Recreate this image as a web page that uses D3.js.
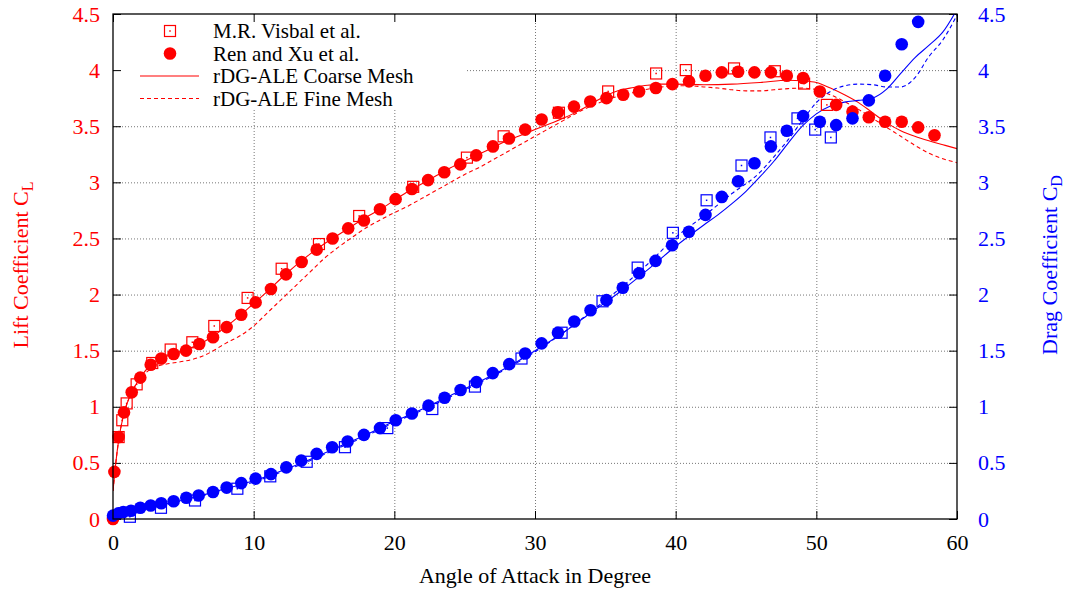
<!DOCTYPE html>
<meta charset="utf-8">
<style>
    body { margin: 0; background: #fff; }
    text { font-family: "Liberation Serif", "Times New Roman", serif; }
    .grid line { stroke: #777; stroke-width: 1; stroke-dasharray: 1,2; }
    .grid path { display: none; }
    .axis path { display: none; }
    .axis line { stroke: #000; stroke-width: 1; }
    .line { fill: none; stroke-width: 1.1px; }
</style>
<svg width="1066" height="592"></svg>
<script src="https://cdn.jsdelivr.net/npm/d3@7"></script>
<script>

    // tick values
    var xTicks = [0, 10, 20, 30, 40, 50, 60];
    var yTicks = [0, 0.5, 1, 1.5, 2, 2.5, 3, 3.5, 4, 4.5];

    // M.R. Visbal et al. (squares)
    var visbalClAlpha = [0.4, 0.66, 0.97, 1.68, 2.79, 4.1, 5.64, 7.2, 9.57, 11.99, 14.64, 17.5, 21.34, 25.16, 27.77, 31.7, 35.2, 38.61, 40.72, 44.15, 47.05, 49.13, 50.75];
    var visbalCl = [0.73, 0.88, 1.03, 1.20, 1.39, 1.51, 1.575, 1.72, 1.97, 2.23, 2.45, 2.70, 2.96, 3.22, 3.41, 3.62, 3.81, 3.97, 4.00, 4.015, 3.99, 3.88, 3.69];
    var visbalCdAlpha = [1.2, 3.41, 5.83, 8.84, 11.18, 13.77, 16.49, 19.5, 22.7, 25.73, 29.04, 31.89, 34.8, 37.3, 39.8, 42.2, 44.68, 46.74, 48.66, 49.92, 51.03];
    var visbalCd = [0.02, 0.10, 0.165, 0.27, 0.38, 0.51, 0.64, 0.81, 0.98, 1.18, 1.43, 1.66, 1.94, 2.24, 2.55, 2.84, 3.15, 3.40, 3.57, 3.47, 3.40];

    // Ren and Xu et al. (filled circles)
    var renClAlpha = [0, 0.1, 0.4, 0.78, 1.33, 1.94, 2.68, 3.43, 4.31, 5.19, 6.13, 7.11, 8.08, 9.12, 10.14, 11.23, 12.3, 13.41, 14.48, 15.61, 16.72, 17.84, 18.98, 20.09, 21.25, 22.4, 23.55, 24.69, 25.82, 27.01, 28.15, 29.3, 30.47, 31.63, 32.77, 33.93, 35.08, 36.27, 37.4, 38.59, 39.77, 40.95, 42.12, 43.28, 44.44, 45.6, 46.77, 47.9, 49.06, 50.25, 51.41, 52.57, 53.73, 54.89, 56.07, 57.24, 58.4];
    var renCl = [0.0, 0.42, 0.73, 0.95, 1.13, 1.26, 1.375, 1.43, 1.47, 1.50, 1.56, 1.62, 1.71, 1.82, 1.93, 2.05, 2.18, 2.29, 2.40, 2.50, 2.59, 2.66, 2.76, 2.85, 2.94, 3.02, 3.09, 3.16, 3.24, 3.32, 3.39, 3.47, 3.56, 3.625, 3.675, 3.72, 3.75, 3.78, 3.81, 3.84, 3.875, 3.90, 3.95, 3.98, 3.985, 3.98, 3.98, 3.95, 3.93, 3.81, 3.69, 3.63, 3.58, 3.54, 3.54, 3.49, 3.42];
    var renCdAlpha = [0, 0.38, 0.73, 1.28, 1.94, 2.68, 3.43, 4.31, 5.21, 6.09, 7.11, 8.08, 9.12, 10.14, 11.23, 12.32, 13.38, 14.48, 15.58, 16.68, 17.84, 18.98, 20.1, 21.25, 22.43, 23.57, 24.71, 25.84, 27.0, 28.17, 29.3, 30.47, 31.63, 32.79, 33.95, 35.08, 36.24, 37.4, 38.57, 39.75, 40.94, 42.12, 43.28, 44.44, 45.6, 46.77, 47.9, 49.06, 50.25, 51.41, 52.57, 53.73, 54.89, 56.07, 57.24];
    var renCd = [0.03, 0.05, 0.0625, 0.074, 0.10, 0.12, 0.14, 0.158, 0.19, 0.21, 0.24, 0.28, 0.32, 0.36, 0.40, 0.46, 0.52, 0.58, 0.64, 0.69, 0.75, 0.81, 0.88, 0.94, 1.01, 1.08, 1.15, 1.22, 1.30, 1.38, 1.475, 1.565, 1.66, 1.76, 1.86, 1.95, 2.06, 2.19, 2.30, 2.44, 2.56, 2.71, 2.87, 3.01, 3.17, 3.32, 3.46, 3.59, 3.54, 3.51, 3.57, 3.73, 3.95, 4.23, 4.43];

    // rDG-ALE coarse mesh (solid)
    var coarseClAlpha = [0, 0.2, 0.4, 0.7, 1, 1.5, 2, 2.5, 3, 4, 5, 6, 7, 8, 9, 10, 11, 12, 13, 14, 15, 16, 17, 18, 19, 20, 21, 22, 23, 24, 25, 26, 27, 28, 29, 30, 31, 32, 33, 34, 35, 36, 37, 38, 39, 40, 42, 44, 46, 48, 49, 50, 51, 52, 53, 54, 55, 56, 57, 58, 59, 60];
    var coarseCl = [0.25, 0.5, 0.70, 0.90, 1.03, 1.17, 1.27, 1.35, 1.40, 1.46, 1.50, 1.55, 1.62, 1.71, 1.81, 1.92, 2.03, 2.15, 2.26, 2.36, 2.45, 2.53, 2.61, 2.69, 2.76, 2.84, 2.92, 2.99, 3.06, 3.13, 3.19, 3.25, 3.31, 3.37, 3.42, 3.47, 3.52, 3.57, 3.63, 3.70, 3.77, 3.82, 3.845, 3.865, 3.875, 3.875, 3.87, 3.875, 3.89, 3.91, 3.905, 3.89, 3.84, 3.78, 3.71, 3.62, 3.53, 3.46, 3.41, 3.37, 3.335, 3.30];
    var coarseCdAlpha = [0, 1, 2, 4, 6, 8, 10, 12, 14, 16, 18, 20, 22, 24, 26, 28, 30, 32, 34, 36, 38, 40, 42, 43, 44, 45, 46, 47, 48, 49, 50, 51, 52, 53, 54, 55, 56, 57, 58, 59, 60];
    var coarseCd = [0.03, 0.06, 0.09, 0.14, 0.20, 0.27, 0.34, 0.43, 0.53, 0.64, 0.75, 0.87, 0.98, 1.10, 1.22, 1.35, 1.50, 1.66, 1.84, 2.02, 2.22, 2.43, 2.62, 2.71, 2.81, 2.92, 3.05, 3.19, 3.35, 3.50, 3.61, 3.68, 3.715, 3.73, 3.75, 3.83, 3.97, 4.11, 4.22, 4.34, 4.54];

    // rDG-ALE fine mesh (dashed)
    var fineClAlpha = [0, 0.2, 0.4, 0.7, 1, 1.5, 2, 2.5, 3, 4, 5, 6, 7, 8, 9, 10, 11, 12, 13, 14, 15, 16, 17, 18, 19, 20, 21, 22, 23, 24, 25, 26, 27, 28, 29, 30, 31, 32, 33, 34, 35, 36, 37, 38, 39, 40, 41, 42, 43, 44, 45, 46, 47, 48, 49, 50, 51, 52, 53, 54, 55, 56, 57, 58, 59, 60];
    var fineCl = [0.25, 0.5, 0.70, 0.90, 1.03, 1.17, 1.26, 1.32, 1.355, 1.385, 1.405, 1.435, 1.49, 1.565, 1.63, 1.72, 1.84, 1.96, 2.08, 2.20, 2.32, 2.42, 2.51, 2.595, 2.665, 2.73, 2.79, 2.86, 2.93, 3.00, 3.07, 3.13, 3.20, 3.27, 3.34, 3.41, 3.48, 3.55, 3.62, 3.68, 3.73, 3.77, 3.80, 3.83, 3.85, 3.86, 3.86, 3.85, 3.84, 3.825, 3.815, 3.815, 3.825, 3.835, 3.84, 3.825, 3.78, 3.72, 3.65, 3.57, 3.49, 3.41, 3.33, 3.26, 3.21, 3.175];
    var fineCdAlpha = [0, 1, 2, 4, 6, 8, 10, 12, 14, 16, 18, 20, 22, 24, 26, 28, 30, 32, 34, 36, 38, 40, 42, 44, 46, 47, 48, 49, 50, 51, 52, 53, 54, 55, 56, 57, 58, 59, 60];
    var fineCd = [0.03, 0.055, 0.085, 0.135, 0.195, 0.26, 0.33, 0.42, 0.52, 0.63, 0.74, 0.86, 0.97, 1.09, 1.21, 1.34, 1.49, 1.66, 1.85, 2.05, 2.27, 2.51, 2.70, 2.90, 3.09, 3.23, 3.38, 3.55, 3.71, 3.81, 3.86, 3.875, 3.87, 3.85, 3.85, 3.93, 4.12, 4.27, 4.49];

    var red = "#ff0000", blue = "#0000ff";
    var serif = "'Liberation Serif', 'Times New Roman', serif";

    var svg = d3.select("svg"),
        margin = {top: 14, right: 109, bottom: 73, left: 113},
        width = svg.attr("width") - margin.left - margin.right,
        height = svg.attr("height") - margin.top - margin.bottom,
        g = svg.append("g").attr("transform", "translate(" + margin.left + "," + margin.top + ")");

    var x = d3.scaleLinear().domain([0, 60]).range([0, width]),
        y = d3.scaleLinear().domain([0, 4.5]).range([height, 0]);

    function zip(a, b) {
        return a.map(function (v, i) { return [v, b[i]]; });
    }

    g.append("clipPath").attr("id", "clip")
        .append("rect").attr("width", width).attr("height", height);

    // grid
    g.append("g")
        .attr("class", "grid")
        .attr("transform", "translate(0," + height + ")")
        .call(d3.axisBottom(x).tickValues(xTicks.slice(1, -1)).tickSize(-height).tickFormat(""));
    g.append("g")
        .attr("class", "grid")
        .call(d3.axisLeft(y).tickValues(yTicks.slice(1, -1)).tickSize(-width).tickFormat(""));

    // legend background (opaque key box)
    var legendW = 353, legendH = 95;
    g.append("rect")
        .attr("x", 1).attr("y", 1)
        .attr("width", legendW).attr("height", legendH)
        .attr("fill", "#fff");

    // axes
    var axLeft = g.append("g").attr("class", "axis")
        .call(d3.axisLeft(y).tickValues(yTicks).tickSize(-8).tickPadding(13).tickFormat(function (d) { return d; }))
        .attr("font-family", serif).attr("font-size", 22);
    axLeft.selectAll("text").attr("fill", red);

    var axRight = g.append("g").attr("class", "axis")
        .attr("transform", "translate(" + width + ",0)")
        .call(d3.axisRight(y).tickValues(yTicks).tickSize(-8).tickPadding(21).tickFormat(function (d) { return d; }))
        .attr("font-family", serif).attr("font-size", 22);
    axRight.selectAll("text").attr("fill", blue);

    var axBottom = g.append("g").attr("class", "axis")
        .attr("transform", "translate(0," + height + ")")
        .call(d3.axisBottom(x).tickValues(xTicks).tickSize(-8).tickPadding(15))
        .attr("font-family", serif).attr("font-size", 22);
    axBottom.selectAll("text").attr("fill", "#000");

    g.append("g").attr("class", "axis")
        .call(d3.axisTop(x).tickValues(xTicks).tickSize(-8).tickFormat(""));

    // curves
    var line = d3.line()
        .curve(d3.curveMonotoneX)
        .x(function (d) { return x(d[0]); })
        .y(function (d) { return y(d[1]); });

    var curves = [
        {data: zip(coarseClAlpha, coarseCl), color: red, dash: null},
        {data: zip(fineClAlpha, fineCl), color: red, dash: "4,3"},
        {data: zip(coarseCdAlpha, coarseCd), color: blue, dash: null},
        {data: zip(fineCdAlpha, fineCd), color: blue, dash: "4,3"}
    ];

    g.append("g").attr("clip-path", "url(#clip)")
        .selectAll("path")
        .data(curves)
        .enter().append("path")
        .attr("class", "line")
        .attr("d", function (d) { return line(d.data); })
        .style("stroke", function (d) { return d.color; })
        .style("stroke-dasharray", function (d) { return d.dash; });

    // square markers with centre dot
    function squares(data, color) {
        var s = g.append("g").selectAll("g")
            .data(data)
            .enter().append("g")
            .attr("transform", function (d) { return "translate(" + x(d[0]) + "," + y(d[1]) + ")"; });
        s.append("rect")
            .attr("x", -5.5).attr("y", -5.5).attr("width", 11).attr("height", 11)
            .attr("fill", "none").attr("stroke", color).attr("stroke-width", 1.2);
        s.append("rect")
            .attr("x", -0.75).attr("y", -0.75).attr("width", 1.5).attr("height", 1.5)
            .attr("fill", color);
    }

    function circles(data, color) {
        g.append("g").selectAll("circle")
            .data(data)
            .enter().append("circle")
            .attr("cx", function (d) { return x(d[0]); })
            .attr("cy", function (d) { return y(d[1]); })
            .attr("r", 6.3)
            .attr("fill", color);
    }

    squares(zip(visbalClAlpha, visbalCl), red);
    circles(zip(renClAlpha, renCl), red);
    squares(zip(visbalCdAlpha, visbalCd), blue);
    circles(zip(renCdAlpha, renCd), blue);

    // border
    g.append("rect")
        .attr("width", width).attr("height", height)
        .attr("fill", "none").attr("stroke", "#000").attr("stroke-width", 1.3);

    // legend
    var legendItems = [
        {label: "M.R. Visbal et al.", type: "square"},
        {label: "Ren and Xu et al.", type: "circle"},
        {label: "rDG-ALE Coarse Mesh", type: "line", dash: null},
        {label: "rDG-ALE Fine Mesh", type: "line", dash: "4,3"}
    ];

    var legend = g.selectAll(".legend")
        .data(legendItems)
        .enter().append("g")
        .attr("class", "legend")
        .attr("transform", function (d, i) { return "translate(0," + (17 + i * 22.5) + ")"; });

    legend.each(function (d) {
        var el = d3.select(this);
        if (d.type === "square") {
            el.append("rect").attr("x", 57 - 5.5).attr("y", -5.5).attr("width", 11).attr("height", 11)
                .attr("fill", "none").attr("stroke", red).attr("stroke-width", 1.2);
            el.append("rect").attr("x", 57 - 0.75).attr("y", -0.75).attr("width", 1.5).attr("height", 1.5)
                .attr("fill", red);
        } else if (d.type === "circle") {
            el.append("circle").attr("cx", 57).attr("r", 6.3).attr("fill", red);
        } else {
            el.append("line").attr("x1", 27).attr("x2", 86)
                .attr("stroke", red).attr("stroke-width", 1.1)
                .style("stroke-dasharray", d.dash);
        }
    });

    legend.append("text")
        .attr("x", 100)
        .attr("dy", "0.35em")
        .style("font-size", "21px")
        .attr("fill", "#000")
        .text(function (d) { return d.label; });

    // axis titles
    svg.append("text")
        .attr("x", 535).attr("y", 583)
        .attr("text-anchor", "middle")
        .style("font-size", "22px")
        .text("Angle of Attack in Degree");

    var lt = svg.append("text")
        .attr("transform", "translate(28,265) rotate(-90)")
        .attr("text-anchor", "middle")
        .attr("fill", red)
        .style("font-size", "22px");
    lt.append("tspan").text("Lift Coefficient C");
    lt.append("tspan").attr("dy", 5).style("font-size", "16px").text("L");

    var rt = svg.append("text")
        .attr("transform", "translate(1057,265) rotate(-90)")
        .attr("text-anchor", "middle")
        .attr("fill", blue)
        .style("font-size", "22px");
    rt.append("tspan").text("Drag Coefficient C");
    rt.append("tspan").attr("dy", 5).style("font-size", "16px").text("D");

</script>
